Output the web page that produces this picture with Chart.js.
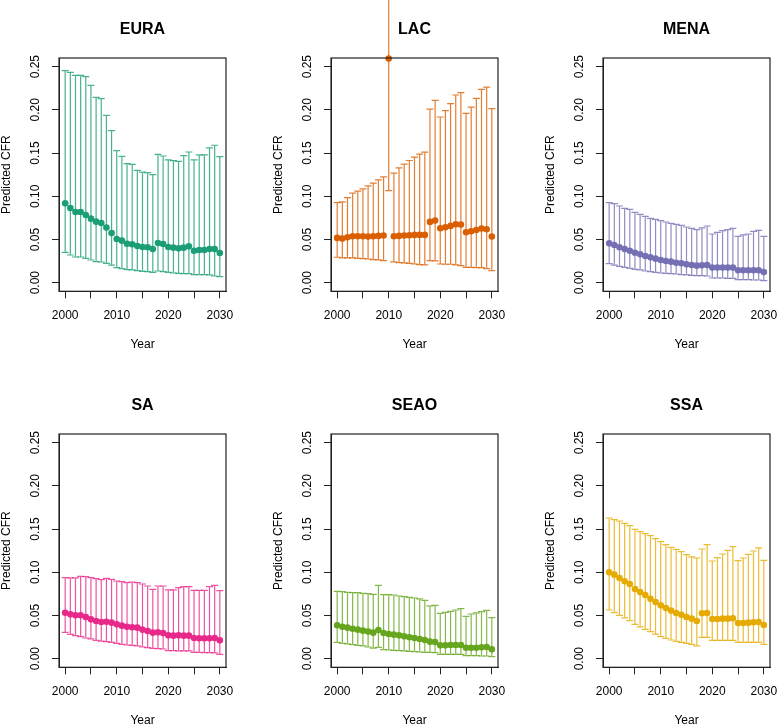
<!DOCTYPE html>
<html>
<head>
<meta charset="utf-8">
<script src="https://cdn.jsdelivr.net/npm/chart.js@4.4.1/dist/chart.umd.min.js"></script>
<style>
  body { margin: 0; background: #fff; width: 778px; height: 726px; overflow: hidden; position: relative; }
  canvas { position: absolute; }
</style>
</head>
<body>
<script>
// years on the x axis
const years = [2000, 2001, 2002, 2003, 2004, 2005, 2006, 2007, 2008, 2009, 2010,
  2011, 2012, 2013, 2014, 2015, 2016, 2017, 2018, 2019, 2020,
  2021, 2022, 2023, 2024, 2025, 2026, 2027, 2028, 2029, 2030];

const xTicks = [2000, 2005, 2010, 2015, 2020, 2025, 2030];
const xTickLabels = ['2000', '', '2010', '', '2020', '', '2030'];
const yTicks = [0, 0.05, 0.10, 0.15, 0.20, 0.25];
const yTickLabels = ['0.00', '0.05', '0.10', '0.15', '0.20', '0.25'];

// EURA
const euraMid = [0.0918, 0.0864, 0.0818, 0.0818, 0.0783, 0.0741, 0.0706, 0.069, 0.0637, 0.0575, 0.0505,
  0.0486, 0.0451, 0.0444, 0.0424, 0.0413, 0.0409, 0.039, 0.0459, 0.0448, 0.0413,
  0.0405, 0.0397, 0.0405, 0.042, 0.037, 0.0378, 0.0378, 0.039, 0.039, 0.0343];
const euraLow = [0.0351, 0.032, 0.0297, 0.0297, 0.0282, 0.0262, 0.0243, 0.0239, 0.0224, 0.0204, 0.0174,
  0.0162, 0.015, 0.0147, 0.0139, 0.0131, 0.0127, 0.012, 0.0135, 0.0127, 0.012,
  0.0112, 0.0108, 0.0104, 0.0104, 0.0093, 0.0093, 0.0093, 0.0089, 0.0077, 0.0069];
const euraHigh = [0.2454, 0.2434, 0.24, 0.24, 0.2384, 0.2284, 0.2145, 0.213, 0.1937, 0.176, 0.1528,
  0.1462, 0.1377, 0.137, 0.130, 0.128, 0.1273, 0.125, 0.1485, 0.1466, 0.142,
  0.1412, 0.1404, 0.147, 0.1512, 0.142, 0.148, 0.148, 0.1559, 0.159, 0.1458];

// LAC
const lacMid = [0.0518, 0.051, 0.0525, 0.0537, 0.0537, 0.0537, 0.0533, 0.0537, 0.0541, 0.0545, 0.2593,
  0.0537, 0.0541, 0.0545, 0.0549, 0.0553, 0.0553, 0.0553, 0.0703, 0.0719, 0.063,
  0.0641, 0.0657, 0.0676, 0.0672, 0.0583, 0.0595, 0.061, 0.0626, 0.0618, 0.0533];
const lacLow = [0.0294, 0.0286, 0.0286, 0.0286, 0.0282, 0.0278, 0.0274, 0.0267, 0.0263, 0.0255, 0.1066,
  0.024, 0.0232, 0.0228, 0.0224, 0.0216, 0.0209, 0.0205, 0.0255, 0.0251, 0.0216,
  0.0213, 0.0213, 0.0205, 0.0197, 0.0178, 0.0178, 0.0174, 0.0174, 0.0162, 0.0139];
const lacHigh = [0.0927, 0.0935, 0.0985, 0.1036, 0.1059, 0.1086, 0.112, 0.1151, 0.119, 0.1225, 0.36,
  0.1267, 0.1329, 0.1372, 0.1414, 0.1453, 0.1488, 0.1511, 0.2009, 0.211, 0.1917,
  0.199, 0.2071, 0.2172, 0.2199, 0.1959, 0.2032, 0.2133, 0.2237, 0.2264, 0.2013];

// MENA
const menaMid = [0.0455, 0.0436, 0.0409, 0.039, 0.037, 0.0347, 0.0328, 0.0309, 0.0293, 0.0278, 0.0262,
  0.0251, 0.0243, 0.0231, 0.0224, 0.0212, 0.0204, 0.0197, 0.0201, 0.0204, 0.0174,
  0.0174, 0.0174, 0.0174, 0.0174, 0.0143, 0.0143, 0.0143, 0.0143, 0.0143, 0.0123];
const menaLow = [0.022, 0.0204, 0.0189, 0.0177, 0.0166, 0.0154, 0.0147, 0.0135, 0.0127, 0.012, 0.0112,
  0.0108, 0.0104, 0.01, 0.0093, 0.0089, 0.0085, 0.0081, 0.0081, 0.0077, 0.0054,
  0.0054, 0.0054, 0.005, 0.005, 0.0035, 0.0035, 0.0035, 0.0031, 0.0031, 0.0023];
const menaHigh = [0.0926, 0.0914, 0.0887, 0.086, 0.0849, 0.0814, 0.0791, 0.0768, 0.0745, 0.0733, 0.0718,
  0.0702, 0.0687, 0.0675, 0.0664, 0.0644, 0.0629, 0.0613, 0.0633, 0.0656, 0.0563,
  0.0583, 0.0602, 0.0613, 0.0629, 0.0536, 0.0552, 0.0563, 0.0594, 0.0606, 0.0536];

// SA
const saMid = [0.0532, 0.0513, 0.0502, 0.0502, 0.0482, 0.0455, 0.0436, 0.0424, 0.0428, 0.0417, 0.0397,
  0.0382, 0.037, 0.0363, 0.0359, 0.0336, 0.032, 0.0301, 0.0305, 0.0297, 0.027,
  0.0266, 0.027, 0.0266, 0.0266, 0.0239, 0.0235, 0.0235, 0.0235, 0.0239, 0.0212];
const saLow = [0.0305, 0.0282, 0.0266, 0.0255, 0.0239, 0.0228, 0.0212, 0.0204, 0.0197, 0.0189, 0.0177,
  0.0166, 0.0158, 0.0154, 0.0147, 0.0135, 0.0127, 0.012, 0.0116, 0.0112, 0.0093,
  0.0093, 0.0089, 0.0089, 0.0089, 0.0073, 0.0073, 0.0069, 0.0069, 0.0066, 0.005];
const saHigh = [0.0938, 0.0934, 0.0934, 0.0953, 0.0949, 0.0938, 0.0926, 0.0914, 0.093, 0.0918, 0.0899,
  0.0891, 0.088, 0.0887, 0.088, 0.0864, 0.0841, 0.0802, 0.0841, 0.0841, 0.0795,
  0.0795, 0.0822, 0.0833, 0.0833, 0.0791, 0.0791, 0.0791, 0.0833, 0.0849, 0.0787];

// SEAO
const seaoMid = [0.0386, 0.037, 0.0359, 0.0347, 0.0336, 0.0324, 0.0313, 0.0301, 0.0332, 0.0297, 0.0285,
  0.0278, 0.027, 0.0258, 0.0247, 0.0239, 0.0228, 0.0216, 0.0197, 0.0193, 0.0154,
  0.0154, 0.0158, 0.0158, 0.0158, 0.0127, 0.0127, 0.0127, 0.0131, 0.0135, 0.0108];
const seaoLow = [0.0189, 0.0177, 0.017, 0.0162, 0.0154, 0.0147, 0.0135, 0.0123, 0.013, 0.0104, 0.01,
  0.0096, 0.0093, 0.0089, 0.0085, 0.0081, 0.0077, 0.0073, 0.0073, 0.0069, 0.005,
  0.005, 0.005, 0.005, 0.005, 0.0035, 0.0035, 0.0035, 0.0031, 0.0031, 0.0023];
const seaoHigh = [0.0779, 0.0775, 0.0768, 0.0764, 0.0764, 0.0756, 0.0752, 0.0745, 0.0849, 0.0741, 0.0741,
  0.0737, 0.0725, 0.0718, 0.071, 0.0702, 0.0691, 0.0675, 0.061, 0.0617, 0.0525,
  0.0536, 0.0548, 0.0563, 0.0579, 0.049, 0.0517, 0.0529, 0.0544, 0.0559, 0.0475];

// SSA
const ssaMid = [0.0999, 0.0972, 0.0934, 0.0895, 0.0864, 0.0806, 0.0772, 0.0737, 0.0694, 0.0656, 0.0617,
  0.0586, 0.0556, 0.0529, 0.0509, 0.0482, 0.0463, 0.0436, 0.0525, 0.0529, 0.0459,
  0.0459, 0.0463, 0.0463, 0.0467, 0.0413, 0.0413, 0.0417, 0.042, 0.0424, 0.039];
const ssaLow = [0.0563, 0.0532, 0.0502, 0.0471, 0.044, 0.0397, 0.0367, 0.034, 0.0313, 0.0285, 0.0255,
  0.0235, 0.0216, 0.02, 0.0189, 0.0177, 0.0166, 0.0147, 0.0247, 0.0247, 0.0212,
  0.0212, 0.0212, 0.0212, 0.0212, 0.0189, 0.0189, 0.0189, 0.0189, 0.0189, 0.0166];
const ssaHigh = [0.1628, 0.1609, 0.1593, 0.1566, 0.1539, 0.1497, 0.147, 0.1447, 0.1424, 0.1389, 0.1354,
  0.1319, 0.1289, 0.1265, 0.1238, 0.1204, 0.1177, 0.1165, 0.1269, 0.1319, 0.113,
  0.1169, 0.1211, 0.1254, 0.1296, 0.1134, 0.1165, 0.1208, 0.1246, 0.1281, 0.1138];

const panels = [
  { name: 'EURA', color: '#1B9E77', barColor: 'rgba(27,158,119,0.8)', mid: euraMid, low: euraLow, high: euraHigh, left: 1, top: 0 },
  { name: 'LAC', color: '#D95F02', barColor: 'rgba(217,95,2,0.8)', mid: lacMid, low: lacLow, high: lacHigh, left: 273, top: 0 },
  { name: 'MENA', color: '#7570B3', barColor: 'rgba(117,112,179,0.8)', mid: menaMid, low: menaLow, high: menaHigh, left: 545, top: 0 },
  { name: 'SA', color: '#E7298A', barColor: 'rgba(231,41,138,0.8)', mid: saMid, low: saLow, high: saHigh, left: 1, top: 376 },
  { name: 'SEAO', color: '#66A61E', barColor: 'rgba(102,166,30,0.8)', mid: seaoMid, low: seaoLow, high: seaoHigh, left: 273, top: 376 },
  { name: 'SSA', color: '#E6AB02', barColor: 'rgba(230,171,2,0.8)', mid: ssaMid, low: ssaLow, high: ssaHigh, left: 545, top: 376 }
];

Chart.defaults.font.family = '"Liberation Sans", Arial, Helvetica, sans-serif';
Chart.defaults.color = '#000';

// vertical error bars with caps, drawn under the points
const errorBars = {
  id: 'errorBars',
  beforeDatasetsDraw(chart) {
    const { ctx, scales: { x, y } } = chart;
    const ds = chart.data.datasets[0];
    const cap = 3.5;
    ctx.save();
    ctx.strokeStyle = ds.barColor;
    ctx.lineWidth = 1.2;
    ds.errLow.forEach((lo, i) => {
      const px = x.getPixelForValue(years[i]);
      const y1 = y.getPixelForValue(lo);
      const y2 = y.getPixelForValue(ds.errHigh[i]);
      ctx.beginPath();
      ctx.moveTo(px, y1);
      ctx.lineTo(px, y2);
      ctx.moveTo(px - cap, y1);
      ctx.lineTo(px + cap, y1);
      ctx.moveTo(px - cap, y2);
      ctx.lineTo(px + cap, y2);
      ctx.stroke();
    });
    ctx.restore();
  }
};

// box round the plot, panel title and rotated y tick labels
const frame = {
  id: 'frame',
  afterDraw(chart) {
    const { ctx, chartArea: a, scales: { y } } = chart;
    ctx.save();
    ctx.strokeStyle = '#222';
    ctx.lineWidth = 1.2;
    ctx.strokeRect(a.left, a.top, a.right - a.left, a.bottom - a.top);
    ctx.fillStyle = '#000';
    ctx.textAlign = 'center';
    ctx.textBaseline = 'middle';
    ctx.font = 'bold 16px "Liberation Sans", Arial, sans-serif';
    ctx.fillText(chart.data.datasets[0].label, (a.left + a.right) / 2, a.top - 28);
    ctx.font = '12px "Liberation Sans", Arial, sans-serif';
    yTicks.forEach((v, i) => {
      ctx.save();
      ctx.translate(a.left - 23, y.getPixelForValue(v));
      ctx.rotate(-Math.PI / 2);
      ctx.fillText(yTickLabels[i], 0, 0);
      ctx.restore();
    });
    ctx.restore();
  }
};

panels.forEach((p) => {
  const canvas = document.createElement('canvas');
  canvas.width = 236;
  canvas.height = 352;
  canvas.style.left = p.left + 'px';
  canvas.style.top = p.top + 'px';
  document.body.appendChild(canvas);

  new Chart(canvas, {
    type: 'scatter',
    data: {
      datasets: [{
        label: p.name,
        data: years.map((yr, i) => ({ x: yr, y: p.mid[i] })),
        errLow: p.low,
        errHigh: p.high,
        barColor: p.barColor,
        backgroundColor: p.color,
        borderColor: p.color,
        borderWidth: 0,
        pointRadius: 3.3,
        clip: false
      }]
    },
    options: {
      responsive: false,
      animation: false,
      devicePixelRatio: 1,
      layout: { padding: { left: 0, right: 11, top: 58, bottom: 0 } },
      plugins: {
        legend: { display: false },
        tooltip: { enabled: false },
        title: { display: false }
      },
      scales: {
        x: {
          type: 'linear',
          min: 1998.8,
          max: 2031.2,
          afterBuildTicks: (s) => { s.ticks = xTicks.map((v) => ({ value: v })); },
          afterFit: (s) => { s.height = 60.7; s.paddingLeft = 0; s.paddingRight = 0; },
          ticks: {
            autoSkip: false,
            maxRotation: 0,
            minRotation: 0,
            padding: 10,
            font: { size: 12 },
            callback: (v, i) => xTickLabels[i]
          },
          grid: { drawOnChartArea: false, drawTicks: true, tickLength: 7, color: '#222' },
          border: { display: true, color: '#222' },
          title: { display: true, text: 'Year', font: { size: 12 }, padding: 0 }
        },
        y: {
          type: 'linear',
          min: -0.01,
          max: 0.26,
          afterBuildTicks: (s) => { s.ticks = yTicks.map((v) => ({ value: v })); },
          afterFit: (s) => { s.width = 58; s.paddingTop = 0; s.paddingBottom = 0; },
          ticks: { display: false },
          grid: { drawOnChartArea: false, drawTicks: true, tickLength: 7, color: '#222' },
          border: { display: true, color: '#222' },
          title: { display: true, text: 'Predicted CFR', font: { size: 12 }, padding: { top: -2, bottom: 0 } }
        }
      }
    },
    plugins: [errorBars, frame]
  });
});
</script>
</body>
</html>
